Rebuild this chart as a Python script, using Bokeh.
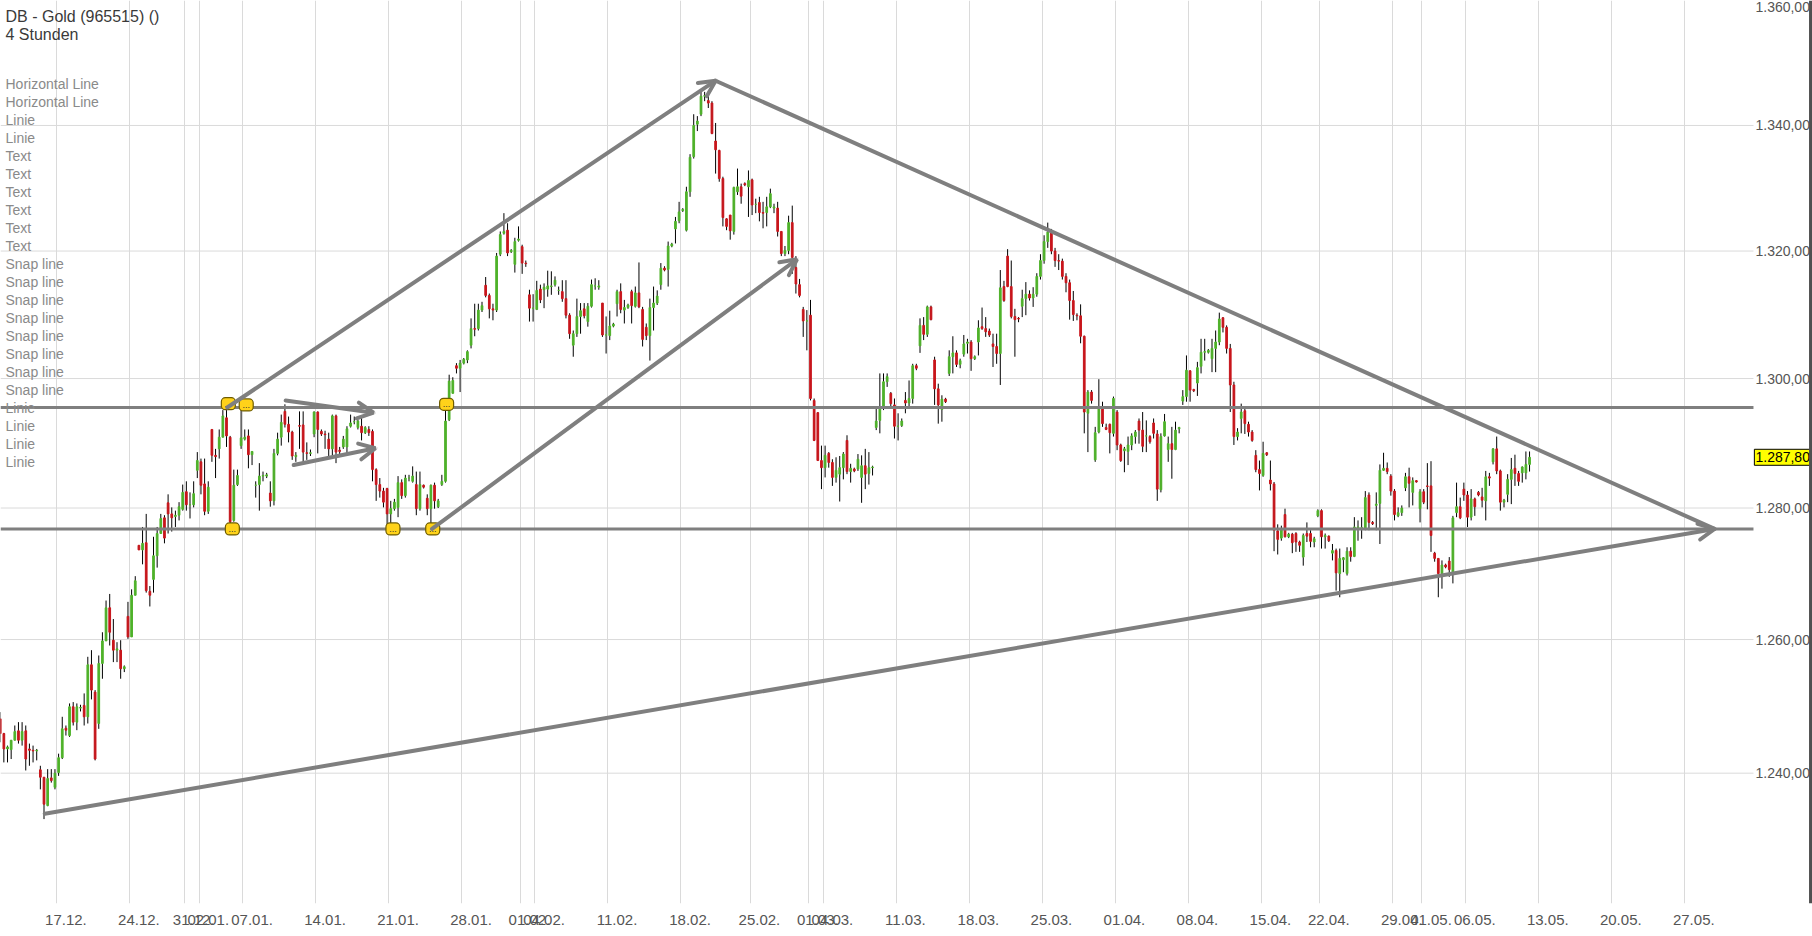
from bokeh.plotting import figure
from bokeh.models import (Range1d, FixedTicker, Label, Span, Arrow, OpenHead,
                          ColumnDataSource)
from bokeh.embed import file_html
from bokeh.resources import INLINE
from bokeh.core.properties import value

# ---------------- data (4-hour candles, index 0 = first candle of 17.12.) -------------
candle_idx = list(range(-16, 404))
opens = [
    1248.1, 1245.9, 1243.6, 1243.5, 1244.9, 1246.3, 1244.9, 1246.3, 1243.6, 1243.4,
    1243.3, 1240.5, 1239.4, 1235.2, 1239.3, 1237.9, 1240.1, 1242.3, 1246.7, 1245.6,
    1249.9, 1247.6, 1249.7, 1250.1, 1248.4, 1256.2, 1252.1, 1247.4, 1256.4, 1259.8,
    1264.8, 1259.9, 1258.4, 1258.4, 1255.6, 1263.5, 1260.4, 1266.7, 1274.3, 1273.6,
    1274.7, 1267.3, 1269.1, 1272.7, 1276.1, 1278.5, 1280.8, 1279.1, 1278.7, 1278.9,
    1279.8, 1282.5, 1280.5, 1280.5, 1285.8, 1287.1, 1283.7, 1279.5, 1292.1, 1288.1,
    1289.1, 1290.9, 1293.9, 1290.9, 1278.1, 1283.6, 1289.6, 1290.6, 1291.1, 1288.2,
    1283.5, 1283.6, 1284.9, 1284.9, 1282.3, 1281.1, 1288.4, 1290.9, 1294.9, 1292.9,
    1291.7, 1287.9, 1292.7, 1292.8, 1288.5, 1288.4, 1291.4, 1294.8, 1291.8, 1291.4,
    1290.6, 1289.1, 1294.2, 1288.9, 1289.4, 1289.4, 1292.6, 1293.3, 1292.4, 1292.6,
    1291.6, 1292.1, 1291.8, 1285.9, 1283.6, 1282.6, 1283.0, 1279.1, 1279.9, 1280.1,
    1283.9, 1281.9, 1284.6, 1284.1, 1283.6, 1279.9, 1283.5, 1281.5, 1279.9, 1283.5,
    1280.2, 1283.6, 1284.1, 1293.6, 1297.7, 1302.0, 1301.6, 1302.4, 1302.9, 1305.2,
    1307.8, 1307.8, 1310.7, 1314.6, 1313.0, 1310.9, 1310.7, 1319.5, 1322.8, 1323.3,
    1319.9, 1317.9, 1321.7, 1320.7, 1318.1, 1313.1, 1311.0, 1310.8, 1314.0, 1313.9,
    1314.0, 1314.4, 1314.7, 1313.8, 1313.6, 1312.5, 1309.9, 1305.2, 1307.0, 1309.7,
    1310.9, 1308.9, 1311.3, 1314.5, 1314.3, 1311.8, 1306.8, 1306.7, 1308.2, 1311.7,
    1313.6, 1310.7, 1311.1, 1313.6, 1311.3, 1313.4, 1310.8, 1308.0, 1306.7, 1311.1,
    1311.8, 1314.7, 1317.3, 1317.1, 1320.8, 1323.5, 1324.8, 1326.4, 1323.3, 1329.4,
    1335.0, 1340.2, 1341.8, 1344.7, 1344.0, 1343.6, 1337.5, 1336.0, 1331.5, 1325.1,
    1325.7, 1323.1, 1329.4, 1330.2, 1330.7, 1330.2, 1331.3, 1327.4, 1327.7, 1326.1,
    1326.1, 1327.0, 1326.8, 1326.8, 1323.1, 1319.6, 1320.1, 1324.5, 1317.4, 1314.7,
    1310.8, 1309.0, 1309.9, 1296.6, 1294.7, 1287.3, 1286.2, 1288.4, 1287.0, 1284.7,
    1285.2, 1286.2, 1290.4, 1285.6, 1286.0, 1286.0, 1284.7, 1286.5, 1285.3, 1286.2,
    1292.4, 1293.5, 1295.6, 1299.5, 1297.7, 1295.9, 1292.6, 1292.7, 1296.6, 1296.2,
    1296.9, 1302.0, 1305.1, 1308.3, 1306.9, 1311.2, 1302.9, 1298.4, 1295.2, 1296.8,
    1300.8, 1303.4, 1304.0, 1302.2, 1303.8, 1305.5, 1305.7, 1303.1, 1305.7, 1308.1,
    1307.8, 1307.4, 1305.4, 1305.0, 1303.9, 1314.4, 1319.2, 1314.4, 1309.7, 1309.4,
    1311.3, 1312.5, 1313.2, 1312.6, 1313.2, 1316.0, 1318.5, 1321.5, 1323.0, 1320.0,
    1318.5, 1318.4, 1316.0, 1315.0, 1312.2, 1309.9, 1309.8, 1306.6, 1294.6, 1297.9,
    1287.4, 1291.7, 1295.4, 1292.4, 1292.9, 1291.5, 1294.8, 1289.7, 1288.8, 1288.7,
    1289.7, 1291.0, 1293.4, 1292.0, 1291.1, 1291.0, 1293.1, 1291.4, 1282.8, 1291.1,
    1289.0, 1289.9, 1289.0, 1292.2, 1296.5, 1297.2, 1301.2, 1298.3, 1299.3, 1301.9,
    1304.1, 1304.1, 1303.1, 1304.7, 1305.7, 1309.5, 1308.0, 1304.7, 1299.0, 1291.0,
    1293.8, 1295.0, 1292.9, 1291.7, 1288.1, 1285.9, 1285.0, 1288.5, 1284.3, 1283.7,
    1276.5, 1275.4, 1279.0, 1275.6, 1276.0, 1276.1, 1274.8, 1272.5, 1276.1, 1276.1,
    1274.8, 1278.8, 1279.6, 1275.6, 1275.7, 1273.1, 1273.5, 1270.0, 1272.1, 1270.0,
    1273.4, 1272.6, 1276.8, 1276.8, 1276.8, 1282.0, 1277.8, 1280.4, 1280.7, 1285.8,
    1286.1, 1284.9, 1282.6, 1278.8, 1279.3, 1283.1, 1284.8, 1282.4, 1284.2, 1279.9,
    1282.5, 1283.4, 1283.4, 1273.1, 1272.3, 1270.0, 1271.3, 1271.9, 1270.2, 1279.3,
    1280.2, 1282.9, 1282.0, 1278.6, 1281.4, 1282.4, 1281.7, 1281.1, 1284.8, 1287.1,
    1289.1, 1285.7, 1280.9, 1282.1, 1284.4, 1286.1, 1285.3, 1285.4, 1285.4, 1286.7,
]
highs = [
    1249.1, 1246.0, 1244.1, 1244.9, 1247.1, 1247.6, 1247.6, 1247.1, 1244.4, 1244.1,
    1243.6, 1241.1, 1239.4, 1240.6, 1240.6, 1240.6, 1242.9, 1248.4, 1247.1, 1250.4,
    1250.6, 1250.4, 1250.2, 1251.9, 1257.4, 1258.4, 1252.4, 1257.6, 1261.1, 1265.9,
    1266.9, 1263.1, 1259.6, 1259.9, 1256.1, 1265.7, 1267.6, 1269.6, 1274.3, 1277.1,
    1279.1, 1268.1, 1275.6, 1277.1, 1279.1, 1278.9, 1282.1, 1280.1, 1279.6, 1280.9,
    1283.6, 1284.1, 1282.4, 1284.1, 1288.6, 1287.6, 1287.6, 1284.1, 1292.1, 1289.1,
    1292.1, 1295.1, 1295.1, 1291.1, 1285.9, 1285.9, 1295.6, 1292.1, 1292.1, 1288.7,
    1284.1, 1286.9, 1285.6, 1285.4, 1284.1, 1289.1, 1291.6, 1294.4, 1296.0, 1294.1,
    1291.9, 1288.6, 1294.9, 1294.9, 1290.1, 1289.0, 1294.9, 1294.9, 1292.1, 1291.9,
    1291.6, 1294.4, 1294.4, 1289.4, 1291.1, 1292.6, 1294.4, 1294.1, 1293.6, 1294.1,
    1292.6, 1292.6, 1292.1, 1286.1, 1284.6, 1283.1, 1283.1, 1281.1, 1281.4, 1284.9,
    1284.4, 1285.1, 1285.1, 1286.4, 1285.6, 1285.6, 1283.6, 1282.1, 1283.6, 1283.9,
    1281.4, 1285.1, 1296.1, 1300.6, 1300.2, 1302.4, 1302.9, 1303.2, 1304.4, 1309.4,
    1311.7, 1311.7, 1312.0, 1315.9, 1313.3, 1311.7, 1319.7, 1323.1, 1326.0, 1324.4,
    1320.3, 1322.1, 1323.9, 1321.0, 1318.5, 1313.9, 1313.2, 1315.3, 1314.7, 1314.9,
    1316.9, 1316.8, 1316.0, 1314.4, 1315.4, 1315.4, 1310.2, 1307.5, 1312.5, 1311.8,
    1311.8, 1311.8, 1315.5, 1315.7, 1315.4, 1311.8, 1309.7, 1310.6, 1308.7, 1313.9,
    1314.9, 1312.3, 1311.7, 1313.9, 1314.4, 1318.2, 1311.2, 1308.6, 1312.5, 1314.4,
    1313.8, 1318.1, 1317.6, 1321.5, 1321.3, 1325.4, 1327.8, 1326.8, 1330.2, 1335.4,
    1341.8, 1341.5, 1345.4, 1345.4, 1345.2, 1343.9, 1340.4, 1336.1, 1331.8, 1325.2,
    1325.7, 1330.2, 1333.1, 1330.7, 1330.9, 1332.8, 1331.5, 1328.3, 1328.6, 1327.8,
    1328.6, 1329.9, 1327.5, 1327.8, 1323.1, 1320.8, 1325.6, 1327.2, 1319.2, 1315.6,
    1311.2, 1310.7, 1312.3, 1296.9, 1294.8, 1289.6, 1289.6, 1288.6, 1287.5, 1287.8,
    1288.0, 1288.6, 1291.2, 1286.8, 1286.2, 1288.3, 1288.1, 1289.1, 1288.6, 1286.5,
    1295.6, 1300.8, 1300.8, 1300.8, 1297.9, 1296.9, 1294.6, 1293.8, 1297.9, 1299.7,
    1302.3, 1302.3, 1309.4, 1309.6, 1311.4, 1311.4, 1303.4, 1299.2, 1297.4, 1297.0,
    1304.4, 1306.6, 1304.4, 1303.1, 1306.8, 1306.2, 1306.0, 1303.6, 1309.1, 1311.1,
    1309.6, 1307.8, 1307.0, 1307.0, 1317.0, 1315.3, 1320.3, 1318.5, 1310.9, 1309.6,
    1313.9, 1315.1, 1313.8, 1314.3, 1316.5, 1319.5, 1322.5, 1324.5, 1323.5, 1320.5,
    1319.5, 1318.8, 1316.5, 1315.5, 1313.7, 1310.2, 1311.6, 1306.7, 1298.2, 1298.2,
    1292.5, 1299.9, 1296.4, 1293.0, 1293.0, 1297.2, 1295.1, 1289.9, 1289.4, 1291.0,
    1291.5, 1292.0, 1293.8, 1294.8, 1293.5, 1291.2, 1293.8, 1292.0, 1291.5, 1294.5,
    1291.0, 1292.5, 1293.3, 1292.5, 1298.2, 1303.6, 1301.3, 1298.4, 1302.6, 1306.2,
    1306.2, 1304.6, 1306.2, 1307.5, 1310.3, 1309.6, 1308.3, 1305.4, 1299.5, 1292.3,
    1296.1, 1295.4, 1293.3, 1292.0, 1288.9, 1287.3, 1290.2, 1288.6, 1287.3, 1284.0,
    1277.5, 1277.3, 1279.9, 1276.2, 1276.2, 1276.3, 1275.0, 1276.1, 1277.8, 1276.6,
    1275.6, 1279.8, 1279.8, 1276.1, 1275.8, 1274.5, 1273.8, 1273.8, 1272.5, 1274.0,
    1274.0, 1278.6, 1278.1, 1278.6, 1282.6, 1282.4, 1278.0, 1282.4, 1286.7, 1288.5,
    1287.0, 1285.2, 1282.9, 1280.1, 1280.4, 1285.4, 1286.2, 1284.7, 1284.3, 1282.9,
    1282.9, 1286.9, 1287.2, 1273.3, 1272.3, 1272.0, 1271.5, 1272.5, 1278.8, 1283.9,
    1281.6, 1283.9, 1282.6, 1282.9, 1281.6, 1282.6, 1283.1, 1285.7, 1285.4, 1289.2,
    1291.0, 1285.9, 1281.4, 1285.2, 1287.7, 1288.2, 1285.7, 1286.4, 1288.7, 1288.7,
]
lows = [
    1244.6, 1241.6, 1241.6, 1242.1, 1244.9, 1244.4, 1244.1, 1240.4, 1241.1, 1241.6,
    1241.9, 1237.6, 1233.2, 1235.1, 1238.6, 1237.6, 1239.6, 1242.1, 1245.6, 1245.4,
    1247.1, 1246.4, 1249.2, 1247.1, 1247.4, 1251.0, 1241.9, 1246.6, 1254.1, 1259.8,
    1259.1, 1256.6, 1256.6, 1254.1, 1255.1, 1260.1, 1260.4, 1266.7, 1273.6, 1271.4,
    1267.1, 1265.0, 1267.1, 1270.9, 1276.1, 1274.6, 1276.1, 1276.4, 1277.1, 1278.1,
    1279.6, 1279.6, 1278.4, 1280.1, 1284.6, 1282.1, 1278.9, 1279.1, 1287.1, 1284.6,
    1287.6, 1290.9, 1289.4, 1277.0, 1277.9, 1283.4, 1289.1, 1290.4, 1286.1, 1286.6,
    1281.6, 1279.6, 1284.1, 1284.6, 1280.2, 1280.4, 1288.1, 1289.6, 1292.4, 1290.1,
    1287.4, 1287.1, 1289.1, 1287.1, 1287.4, 1288.0, 1290.9, 1288.4, 1291.1, 1289.1,
    1287.9, 1287.9, 1286.9, 1288.1, 1289.1, 1288.4, 1292.4, 1292.9, 1292.1, 1290.4,
    1291.4, 1291.1, 1284.1, 1281.1, 1281.6, 1280.1, 1277.0, 1277.2, 1279.6, 1278.6,
    1281.4, 1281.6, 1284.1, 1283.9, 1278.9, 1279.6, 1283.0, 1278.9, 1277.0, 1279.9,
    1280.0, 1283.4, 1283.9, 1293.4, 1297.7, 1300.8, 1297.9, 1302.2, 1302.4, 1304.7,
    1306.6, 1307.5, 1310.4, 1312.7, 1309.4, 1309.1, 1310.4, 1319.2, 1322.6, 1319.2,
    1319.7, 1316.6, 1321.5, 1316.4, 1317.5, 1308.9, 1308.9, 1310.7, 1311.8, 1311.0,
    1312.8, 1313.1, 1314.4, 1313.1, 1312.0, 1309.4, 1306.2, 1303.4, 1306.5, 1307.0,
    1309.4, 1308.1, 1311.1, 1313.9, 1313.9, 1306.5, 1303.9, 1306.0, 1308.0, 1309.7,
    1310.2, 1308.6, 1310.9, 1308.6, 1311.1, 1311.0, 1305.0, 1306.0, 1302.8, 1307.5,
    1311.5, 1313.9, 1316.8, 1314.4, 1320.6, 1321.2, 1324.4, 1326.2, 1323.1, 1328.6,
    1334.7, 1339.1, 1341.5, 1343.9, 1342.8, 1338.6, 1332.3, 1331.0, 1323.9, 1323.3,
    1321.8, 1322.6, 1328.9, 1327.5, 1330.3, 1325.4, 1325.7, 1326.0, 1324.7, 1323.6,
    1323.9, 1326.8, 1326.0, 1322.3, 1319.2, 1319.2, 1319.5, 1316.4, 1313.3, 1312.7,
    1306.5, 1304.4, 1296.6, 1290.3, 1287.3, 1282.9, 1284.7, 1286.2, 1283.4, 1283.9,
    1281.0, 1284.4, 1285.2, 1283.9, 1285.5, 1285.7, 1280.8, 1282.9, 1283.6, 1285.0,
    1292.0, 1291.5, 1295.1, 1298.7, 1295.6, 1290.7, 1290.4, 1292.5, 1294.6, 1295.3,
    1296.1, 1301.3, 1304.0, 1306.0, 1306.5, 1309.1, 1295.9, 1293.0, 1293.3, 1296.2,
    1300.4, 1300.8, 1301.8, 1301.6, 1303.4, 1303.9, 1301.2, 1302.9, 1303.6, 1307.6,
    1306.5, 1306.5, 1301.8, 1302.3, 1299.0, 1312.0, 1314.3, 1309.4, 1303.4, 1308.8,
    1309.6, 1309.9, 1312.2, 1311.2, 1312.8, 1315.5, 1318.0, 1320.5, 1319.5, 1317.5,
    1317.0, 1315.5, 1313.5, 1309.2, 1309.0, 1309.1, 1305.5, 1291.5, 1288.6, 1296.1,
    1287.1, 1291.5, 1292.5, 1292.0, 1288.4, 1291.0, 1288.9, 1287.1, 1285.5, 1286.6,
    1288.9, 1289.9, 1289.9, 1288.6, 1288.6, 1289.9, 1290.7, 1281.1, 1282.4, 1291.0,
    1287.1, 1284.5, 1288.9, 1291.5, 1295.9, 1296.4, 1296.4, 1297.9, 1297.3, 1300.8,
    1302.8, 1303.9, 1301.0, 1301.0, 1305.2, 1307.2, 1303.9, 1294.8, 1289.7, 1290.4,
    1291.5, 1291.4, 1291.0, 1290.2, 1285.5, 1282.7, 1284.8, 1288.0, 1282.7, 1273.4,
    1272.9, 1275.0, 1275.5, 1275.4, 1273.1, 1273.3, 1273.3, 1271.2, 1274.8, 1274.0,
    1274.0, 1278.6, 1273.8, 1273.8, 1274.8, 1272.0, 1267.4, 1266.4, 1270.2, 1269.7,
    1271.8, 1272.5, 1275.0, 1275.3, 1276.6, 1276.6, 1277.4, 1276.6, 1274.5, 1285.7,
    1285.2, 1281.9, 1278.1, 1278.6, 1278.8, 1282.6, 1280.1, 1280.4, 1283.9, 1277.8,
    1280.6, 1279.8, 1273.3, 1271.8, 1266.4, 1267.7, 1270.8, 1269.5, 1268.5, 1278.6,
    1278.3, 1281.1, 1277.1, 1278.1, 1278.8, 1281.8, 1280.1, 1278.1, 1283.4, 1286.7,
    1285.2, 1279.6, 1280.1, 1280.9, 1280.6, 1283.4, 1283.4, 1283.9, 1284.4, 1285.6,
]
closes = [
    1245.9, 1243.6, 1243.9, 1244.9, 1246.2, 1244.9, 1246.2, 1242.1, 1243.4, 1243.3,
    1243.4, 1239.4, 1235.4, 1239.2, 1238.9, 1240.0, 1242.3, 1246.6, 1246.4, 1249.9,
    1247.6, 1249.9, 1249.8, 1248.4, 1256.2, 1252.4, 1242.1, 1256.4, 1259.8, 1264.8,
    1261.1, 1258.4, 1258.6, 1255.6, 1255.9, 1260.4, 1266.7, 1268.9, 1273.6, 1274.6,
    1267.4, 1266.7, 1272.7, 1276.1, 1278.4, 1275.4, 1279.1, 1278.5, 1278.9, 1280.2,
    1282.4, 1280.5, 1280.5, 1282.2, 1287.3, 1283.5, 1279.5, 1283.2, 1288.1, 1287.9,
    1290.9, 1294.2, 1291.1, 1277.9, 1283.5, 1285.0, 1290.8, 1290.9, 1288.2, 1288.7,
    1283.5, 1284.9, 1285.0, 1285.1, 1281.1, 1288.4, 1290.6, 1293.2, 1292.9, 1291.7,
    1288.0, 1288.1, 1292.6, 1288.6, 1288.4, 1288.5, 1294.8, 1292.1, 1291.4, 1291.3,
    1289.1, 1294.2, 1288.6, 1288.7, 1290.6, 1292.2, 1293.1, 1293.3, 1293.4, 1291.6,
    1292.4, 1291.6, 1285.9, 1283.6, 1282.6, 1280.9, 1279.1, 1279.9, 1280.9, 1283.9,
    1281.9, 1284.6, 1284.6, 1284.9, 1279.9, 1283.6, 1283.2, 1279.9, 1283.5, 1281.1,
    1281.1, 1284.1, 1293.4, 1299.6, 1299.7, 1301.6, 1302.4, 1303.0, 1304.2, 1307.8,
    1307.7, 1310.7, 1311.4, 1313.0, 1310.9, 1310.7, 1319.2, 1322.6, 1323.1, 1319.7,
    1320.1, 1321.5, 1321.9, 1318.1, 1318.0, 1311.0, 1311.0, 1313.8, 1312.3, 1314.3,
    1314.5, 1314.5, 1315.4, 1313.8, 1312.5, 1309.9, 1307.0, 1307.0, 1309.7, 1310.6,
    1309.8, 1311.3, 1314.7, 1314.5, 1314.5, 1306.8, 1306.8, 1308.2, 1308.5, 1313.6,
    1310.8, 1311.1, 1311.5, 1311.4, 1313.4, 1311.2, 1306.1, 1306.7, 1311.1, 1311.8,
    1312.9, 1317.3, 1317.0, 1320.8, 1321.1, 1324.7, 1326.2, 1326.6, 1329.4, 1334.9,
    1340.0, 1340.7, 1344.7, 1344.8, 1343.6, 1338.7, 1336.1, 1331.5, 1325.3, 1323.9,
    1323.2, 1330.1, 1330.2, 1328.7, 1330.5, 1331.2, 1327.3, 1327.4, 1326.1, 1326.0,
    1327.0, 1329.1, 1327.0, 1323.1, 1319.6, 1320.1, 1324.5, 1319.0, 1314.8, 1313.0,
    1309.0, 1309.0, 1296.9, 1290.4, 1287.3, 1286.2, 1288.1, 1287.0, 1284.7, 1285.8,
    1286.2, 1288.3, 1285.6, 1286.1, 1285.7, 1287.5, 1286.5, 1285.2, 1286.2, 1286.3,
    1293.4, 1295.6, 1299.5, 1300.3, 1296.1, 1292.6, 1292.6, 1293.4, 1296.2, 1296.9,
    1302.0, 1301.6, 1308.3, 1306.9, 1311.2, 1309.2, 1298.4, 1295.9, 1296.8, 1296.4,
    1303.4, 1304.0, 1302.2, 1302.8, 1305.4, 1305.7, 1303.1, 1303.4, 1307.9, 1307.8,
    1307.3, 1306.8, 1305.0, 1303.9, 1314.2, 1312.2, 1314.4, 1309.7, 1309.2, 1309.3,
    1312.5, 1313.2, 1312.6, 1313.2, 1316.0, 1318.5, 1321.5, 1323.0, 1320.0, 1318.5,
    1318.4, 1316.0, 1315.0, 1312.2, 1310.0, 1309.8, 1306.6, 1294.8, 1297.9, 1296.6,
    1291.6, 1295.4, 1293.0, 1292.1, 1291.6, 1296.9, 1289.7, 1287.3, 1289.1, 1289.7,
    1291.1, 1291.7, 1292.0, 1289.5, 1291.1, 1290.2, 1291.5, 1282.9, 1291.0, 1293.3,
    1289.9, 1289.0, 1292.0, 1292.4, 1297.2, 1301.3, 1298.2, 1298.1, 1301.7, 1304.1,
    1304.2, 1304.4, 1304.7, 1305.7, 1309.3, 1308.0, 1304.7, 1299.0, 1291.0, 1291.7,
    1294.8, 1293.0, 1291.7, 1290.4, 1285.9, 1285.3, 1288.4, 1288.2, 1283.7, 1276.6,
    1275.2, 1276.8, 1275.6, 1276.0, 1274.7, 1274.8, 1274.3, 1275.8, 1275.7, 1274.9,
    1275.3, 1279.6, 1275.6, 1275.8, 1275.0, 1273.5, 1270.1, 1272.3, 1272.4, 1273.4,
    1272.6, 1277.1, 1277.1, 1277.0, 1281.6, 1277.8, 1277.6, 1280.6, 1285.8, 1286.1,
    1285.6, 1282.6, 1279.0, 1279.3, 1280.0, 1284.8, 1283.8, 1284.2, 1284.0, 1282.5,
    1280.9, 1283.3, 1275.8, 1272.3, 1270.0, 1271.3, 1271.0, 1270.6, 1278.5, 1280.2,
    1278.5, 1282.0, 1278.6, 1281.4, 1280.2, 1282.0, 1281.2, 1284.8, 1284.6, 1289.1,
    1285.7, 1280.9, 1281.2, 1284.4, 1285.9, 1285.3, 1284.1, 1286.3, 1286.7, 1287.8,
]

# date ticks: candle index of the first 4h candle of each labelled day
tick_idx = [0, 20, 35, 39, 51, 71, 91, 111, 127, 131, 151, 171, 190, 206, 210,
            230, 250, 270, 290, 310, 330, 346, 366, 374, 386, 406, 426, 446]
tick_labels = ["17.12.", "24.12.", "31.12.", "02.01.", "07.01.", "14.01.", "21.01.",
               "28.01.", "01.02.", "04.02.", "11.02.", "18.02.", "25.02.", "01.03.",
               "04.03.", "11.03.", "18.03.", "25.03.", "01.04.", "08.04.", "15.04.",
               "22.04.", "29.04.", "01.05.", "06.05.", "13.05.", "20.05.", "27.05."]
price_ticks = [1240.0, 1260.0, 1280.0, 1300.0, 1320.0, 1340.0]
price_labels = ["1.240,00", "1.260,00", "1.280,00", "1.300,00", "1.320,00", "1.340,00"]
top_tick = 1360.0
top_label = "1.360,00"

resistance_level = 1295.5
support_level = 1276.8
last_price = 1287.8
last_price_text = "1.287,80"

# drawn trend lines (candle index, price)
trend_x0 = [-3.8, 46.2, 180.0, 102.3, 62.2, 64.4]
trend_y0 = [1234.0, 1295.5, 1347.2, 1276.8, 1296.6, 1286.6]
trend_x1 = [453.7, 180.0, 453.7, 202.3, 86.3, 86.8]
trend_y1 = [1276.8, 1347.2, 1276.8, 1318.7, 1294.7, 1289.2]
trend_head = [True, True, False, True, True, True]

# snap markers
snap_x = [46.5, 51.4, 47.6, 91.6, 102.5, 106.3]
snap_y = [1296.1, 1295.9, 1276.8, 1276.8, 1276.8, 1296.0]

title_text = "DB - Gold (965515) ()"
subtitle_text = "4 Stunden"
drawing_items = (["Horizontal Line"] * 2 + ["Linie"] * 2 + ["Text"] * 6 +
                 ["Snap line"] * 8 + ["Linie"] * 4)

# ---------------- figure ----------------
W, H = 1812, 936
FRAME_H = 903
X_START, X_END = -15.92, 480.52        # visible candle-index range (frame spans the page)
GRID_END = 464.35                      # right edge of the chart area (price scale beyond)
SCALE_X = 464.89                       # left edge of the price-scale texts
p = figure(width=W, height=H,
           x_range=Range1d(X_START, X_END), y_range=Range1d(1220.8, 1360.2),
           y_axis_type="log", y_axis_location=None,
           output_backend="svg", toolbar_location=None,
           min_border_left=0, min_border_top=0, min_border_right=0,
           min_border_bottom=H - FRAME_H)
p.outline_line_color = None
p.background_fill_color = "white"
p.border_fill_color = "white"

grid_col = "#dadada"
p.xgrid.ticker = FixedTicker(ticks=[t - 0.5 for t in tick_idx])
p.xgrid.grid_line_color = grid_col
p.ygrid.visible = False

# horizontal grid lines, only across the chart area
p.segment(x0=[X_START] * len(price_ticks), x1=[GRID_END] * len(price_ticks),
          y0=price_ticks, y1=price_ticks, line_color=grid_col, line_width=1)

xa = p.xaxis[0]
label_pos = [t + 2.0 for t in tick_idx]
xa.ticker = FixedTicker(ticks=label_pos)
xa.major_label_overrides = {pos: lab for pos, lab in zip(label_pos, tick_labels)}
xa.axis_line_color = None
xa.major_tick_line_color = None
xa.minor_tick_line_color = None
xa.major_label_standoff = 5
xa.major_label_text_font = "Liberation Sans"
xa.major_label_text_font_size = "15px"
xa.major_label_text_color = "#555555"

# price scale texts
p.text(x=[SCALE_X] * len(price_ticks), y=price_ticks, text=price_labels,
       text_font=value("Liberation Sans"), text_font_size="14px", text_color="#555555",
       text_align="left", text_baseline="middle")
p.text(x=[SCALE_X], y=[top_tick], text=[top_label],
       text_font=value("Liberation Sans"), text_font_size="14px", text_color="#555555",
       text_align="left", text_baseline="top")

# ---------------- candles ----------------
up_col, down_col = "#4fb22a", "#c8161c"
tops = [max(o, c) for o, c in zip(opens, closes)]
bots = [min(o, c) for o, c in zip(opens, closes)]
cols = [up_col if c >= o else down_col for o, c in zip(opens, closes)]
src = ColumnDataSource(dict(x=candle_idx, high=[max(h, t) for h, t in zip(highs, tops)],
                            low=[min(l, b) for l, b in zip(lows, bots)],
                            top=tops, bottom=bots, color=cols))
p.segment(x0="x", y0="low", x1="x", y1="high", source=src, line_color="black", line_width=1)
p.vbar(x="x", width=0.47, top="top", bottom="bottom", source=src,
       fill_color="color", line_color="color", line_width=1)

# ---------------- legend texts (top-left) ----------------
p.add_layout(Label(x=5, y=FRAME_H - 16, x_units="screen", y_units="screen",
                   text=title_text, text_font="Liberation Sans", text_font_size="16px",
                   text_color="#3a3a3a", text_baseline="middle"))
p.add_layout(Label(x=5, y=FRAME_H - 34.3, x_units="screen", y_units="screen",
                   text=subtitle_text, text_font="Liberation Sans", text_font_size="16px",
                   text_color="#3a3a3a", text_baseline="middle"))
for i, item in enumerate(drawing_items):
    p.add_layout(Label(x=5, y=FRAME_H - 83.7 - 18 * i, x_units="screen", y_units="screen",
                       text=item, text_font="Liberation Sans", text_font_size="14px",
                       text_color="#8a8a8a", text_baseline="middle"))

# ---------------- horizontal lines ----------------
line_col = "#7f7f7f"
p.segment(x0=[X_START, X_START], x1=[GRID_END, GRID_END],
          y0=[resistance_level, support_level], y1=[resistance_level, support_level],
          line_color=line_col, line_width=3)

# ---------------- trend lines / arrows ----------------
for x0, y0, x1, y1, head in zip(trend_x0, trend_y0, trend_x1, trend_y1, trend_head):
    end = OpenHead(size=16, line_color=line_col, line_width=4, line_cap="round") if head else None
    p.add_layout(Arrow(x_start=x0, y_start=y0, x_end=x1, y_end=y1, end=end,
                       line_color=line_col, line_width=4, line_cap="round"))

# ---------------- snap markers ----------------
p.rect(x=snap_x, y=snap_y, width=14, height=12, width_units="screen", height_units="screen",
       fill_color="#ffd21a", line_color="#6e5c00", line_width=1.2, border_radius=4)
p.text(x=snap_x, y=snap_y, text=["..."] * len(snap_x), text_font_size="9px",
       text_align="center", text_baseline="middle", text_color="#333333")

# ---------------- last price box ----------------
p.rect(x=[472.4], y=[last_price], width=57, height=16, width_units="screen",
       height_units="screen", fill_color="#ffff00", line_color="black", line_width=1)
p.text(x=[SCALE_X], y=[last_price], text=[last_price_text],
       text_font=value("Liberation Sans"), text_font_size="14px", text_color="black",
       text_align="left", text_baseline="middle")

# window edge at the right
p.add_layout(Span(location=480.05, dimension="height", line_color="#505050", line_width=3.5))

open("out.html", "w").write(file_html(p, INLINE))
